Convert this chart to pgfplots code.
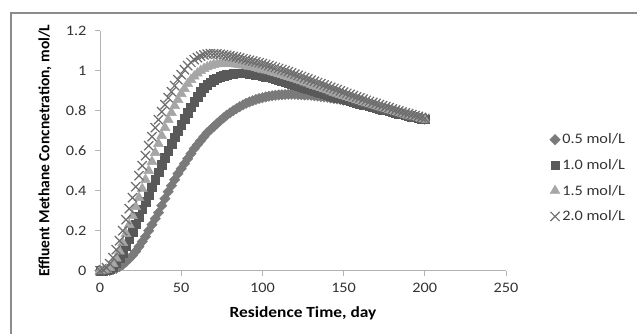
\documentclass[border=0pt]{standalone}
\usepackage{fontspec}
\setmainfont{Carlito}[FakeStretch=1.12]
\newfontfamily\ylabfont{Carlito}
\usepackage{pgfplots}
\usepackage{pgfplotstable}
\pgfplotsset{compat=1.18}
\definecolor{cA}{HTML}{7A7A7A}
\definecolor{cB}{HTML}{595959}
\definecolor{cC}{HTML}{A6A6A6}
\definecolor{cD}{HTML}{6E6E6E}
\definecolor{axisgray}{HTML}{B3B3B3}
\definecolor{bordergray}{HTML}{8C8C8C}
\definecolor{ticktext}{HTML}{333333}

\pgfplotstableread{
x y
0 0
2 0
4 0.001
6 0.002
8 0.006
10 0.012
12 0.02
14 0.03
16 0.044
18 0.06
20 0.076
22 0.096
24 0.12
26 0.145
28 0.17
30 0.20
32 0.23
34 0.26
36 0.29
38 0.325
40 0.36
42 0.395
44 0.425
46 0.455
48 0.485
50 0.51
52 0.535
54 0.56
56 0.585
58 0.61
60 0.63
62 0.65
64 0.67
66 0.69
68 0.705
70 0.72
72 0.735
74 0.75
76 0.764
78 0.777
80 0.789
82 0.80
84 0.81
86 0.82
88 0.829
90 0.837
92 0.844
94 0.85
96 0.856
98 0.861
100 0.865
102 0.869
104 0.872
106 0.875
108 0.877
110 0.879
112 0.880
114 0.881
116 0.882
118 0.882
120 0.882
122 0.881
124 0.880
126 0.879
128 0.878
130 0.877
132 0.875
134 0.873
136 0.871
138 0.869
140 0.867
142 0.864
144 0.861
146 0.859
148 0.856
150 0.853
152 0.850
154 0.847
156 0.844
158 0.840
160 0.837
162 0.834
164 0.830
166 0.827
168 0.823
170 0.820
172 0.816
174 0.813
176 0.809
178 0.806
180 0.802
182 0.798
184 0.793
186 0.789
188 0.784
190 0.780
192 0.776
194 0.771
196 0.767
198 0.762
200 0.758
}\tabA

\pgfplotstableread{
x y
0 0
2 0.001
4 0.003
6 0.009
8 0.02
10 0.038
12 0.062
14 0.09
16 0.122
18 0.158
20 0.195
22 0.232
24 0.27
26 0.307
28 0.344
30 0.381
32 0.418
34 0.455
36 0.492
38 0.53
40 0.565
42 0.6
44 0.635
46 0.668
48 0.70
50 0.73
52 0.76
54 0.79
56 0.818
58 0.845
60 0.87
62 0.895
64 0.915
66 0.93
68 0.943
70 0.954
72 0.962
74 0.969
76 0.975
78 0.979
80 0.982
82 0.985
84 0.987
86 0.988
88 0.988
90 0.987
92 0.986
94 0.984
96 0.981
98 0.978
100 0.975
102 0.971
104 0.967
106 0.963
108 0.958
110 0.954
112 0.949
114 0.944
116 0.939
118 0.934
120 0.929
122 0.924
124 0.919
126 0.914
128 0.909
130 0.904
132 0.899
134 0.894
136 0.889
138 0.885
140 0.880
142 0.875
144 0.871
146 0.866
148 0.862
150 0.857
152 0.853
154 0.848
156 0.844
158 0.839
160 0.835
162 0.831
164 0.827
166 0.822
168 0.818
170 0.814
172 0.810
174 0.806
176 0.802
178 0.798
180 0.794
182 0.790
184 0.786
186 0.782
188 0.778
190 0.775
192 0.771
194 0.767
196 0.764
198 0.760
200 0.757
}\tabB

\pgfplotstableread{
x y
0 0
2 0.002
4 0.006
6 0.016
8 0.035
10 0.062
12 0.097
14 0.14
16 0.185
18 0.23
20 0.275
22 0.32
24 0.365
26 0.41
28 0.455
30 0.50
32 0.545
34 0.59
36 0.635
38 0.675
40 0.715
42 0.755
44 0.79
46 0.825
48 0.855
50 0.885
52 0.91
54 0.935
56 0.955
58 0.972
60 0.987
62 1.0
64 1.01
66 1.018
68 1.025
70 1.03
72 1.033
74 1.035
76 1.036
78 1.036
80 1.035
82 1.034
84 1.032
86 1.03
88 1.027
90 1.024
92 1.021
94 1.018
96 1.014
98 1.01
100 1.006
102 1.002
104 0.998
106 0.993
108 0.989
110 0.984
112 0.979
114 0.974
116 0.969
118 0.964
120 0.959
122 0.953
124 0.948
126 0.942
128 0.937
130 0.931
132 0.925
134 0.920
136 0.914
138 0.908
140 0.903
142 0.897
144 0.891
146 0.886
148 0.880
150 0.875
152 0.869
154 0.864
156 0.859
158 0.853
160 0.848
162 0.843
164 0.838
166 0.833
168 0.828
170 0.823
172 0.818
174 0.813
176 0.808
178 0.803
180 0.799
182 0.794
184 0.789
186 0.785
188 0.780
190 0.776
192 0.772
194 0.768
196 0.764
198 0.760
200 0.756
}\tabC

\pgfplotstableread{
x y
0 0
2 0.004
4 0.015
6 0.035
8 0.065
10 0.105
12 0.15
14 0.2
16 0.255
18 0.31
20 0.365
22 0.42
24 0.475
26 0.525
28 0.575
30 0.625
32 0.67
34 0.715
36 0.755
38 0.795
40 0.83
42 0.865
44 0.895
46 0.925
48 0.955
50 0.98
52 1.005
54 1.025
56 1.042
58 1.055
60 1.065
62 1.073
64 1.079
66 1.083
68 1.085
70 1.085
72 1.084
74 1.082
76 1.080
78 1.077
80 1.074
82 1.071
84 1.068
86 1.064
88 1.060
90 1.056
92 1.052
94 1.048
96 1.044
98 1.040
100 1.036
102 1.031
104 1.026
106 1.021
108 1.016
110 1.011
112 1.006
114 1.000
116 0.995
118 0.989
120 0.983
122 0.977
124 0.971
126 0.965
128 0.959
130 0.953
132 0.947
134 0.941
136 0.935
138 0.929
140 0.923
142 0.917
144 0.911
146 0.905
148 0.899
150 0.893
152 0.887
154 0.881
156 0.875
158 0.869
160 0.864
162 0.858
164 0.852
166 0.847
168 0.841
170 0.836
172 0.830
174 0.825
176 0.820
178 0.815
180 0.809
182 0.804
184 0.799
186 0.794
188 0.789
190 0.785
192 0.780
194 0.775
196 0.771
198 0.766
200 0.762
}\tabD

\begin{document}
\begin{tikzpicture}[x=1pt,y=1pt]
\useasboundingbox (0,0) rectangle (637,334);
\clip (0,0) rectangle (637,334);
\draw[bordergray, line width=1.2pt] (11,-20) -- (11,321) -- (660,321);
\begin{axis}[
  at={(100pt,63.3pt)}, anchor=south west,
  scale only axis, width=406pt, height=240pt,
  xmin=0, xmax=250, ymin=0, ymax=1.2,
  xtick={0,50,...,250}, ytick={0,0.2,0.4,0.6,0.8,1,1.2},
  axis x line=bottom, axis y line=left,
  axis line style={-, draw=axisgray, line width=0.8pt},
  tick style={draw=axisgray, line width=0.8pt},
  major tick length=5pt, tick align=outside,
  clip=false,
  /pgf/number format/assume math mode=true,
  ticklabel style={font=\fontsize{14.5}{16}\selectfont, text=ticktext},
  xticklabel style={yshift=-4pt},
  yticklabel style={xshift=-5pt},
  xlabel={\textbf{Residence Time, day}},
  xlabel style={at={(axis description cs:0.5,-0.176)}, anchor=center, font=\fontsize{15.5}{17}\selectfont},
  ylabel={\ylabfont\bfseries Effluent Methane Concnetration, mol/L},
  ylabel style={at={(axis description cs:-0.1355,0.5)}, anchor=center, font=\fontsize{15.5}{17}\selectfont},
  legend style={at={(1.10,0.386)}, anchor=west, draw=none, fill=none,
    font=\fontsize{14.5}{16}\selectfont, row sep=10pt, text=ticktext,
    /tikz/every even column/.append style={column sep=1pt}},
  legend cell align=left,
]
\addplot[only marks, mark=square*, mark size=3.7pt, color=cA, mark options={rotate=45, fill=cA, draw=cA}] table {\tabA};
\addlegendentry{0.5 mol/L}
\addplot[only marks, mark=square*, mark size=4.3pt, color=cB, mark options={fill=cB, draw=cB}] table {\tabB};
\addlegendentry{1.0 mol/L}
\addplot[only marks, mark=triangle*, mark size=5.8pt, color=cC, mark options={fill=cC, draw=cC}] table {\tabC};
\addlegendentry{1.5 mol/L}
\addplot[only marks, mark=x, mark size=6.5pt, color=cD, mark options={line width=1.2pt, draw=cD}] table {\tabD};
\addlegendentry{2.0 mol/L}
\end{axis}
\end{tikzpicture}
\end{document}
